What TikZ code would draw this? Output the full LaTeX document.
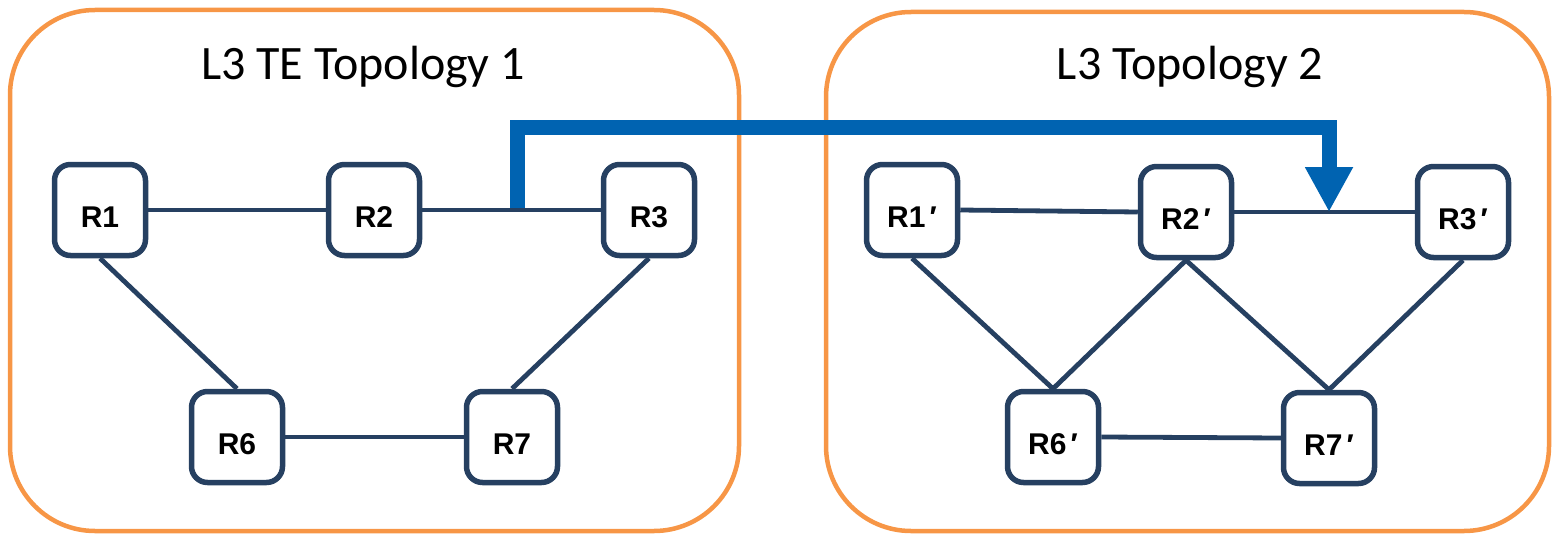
\documentclass[tikz,border=0pt]{standalone}
\usepackage{fontspec}
\newfontfamily\titlefont{Carlito}
\newfontfamily\labelfont{Liberation Sans}
\usetikzlibrary{arrows.meta,calc}
\definecolor{frameorange}{RGB}{247,150,70}
\definecolor{navy}{RGB}{38,64,97}
\definecolor{arrowblue}{RGB}{0,99,177}
\newcommand{\pr}{\hspace{4pt}′}
\tikzset{
  frame/.style={draw=frameorange,line width=4.5pt,rounded corners=85pt},
  router/.style={draw=navy,line width=5.5pt,rounded corners=16pt,fill=white,
    minimum width=91pt,minimum height=91pt,inner sep=0pt},
  rlabel/.style={font=\labelfont\bfseries\fontsize{30}{32}\selectfont,yshift=-7pt},
  link/.style={draw=navy,line width=4.8pt},
  title/.style={font=\titlefont\fontsize{48}{56}\selectfont,anchor=base},
  bigarrow/.style={draw=arrowblue,line width=15pt,line join=miter,
    -{Triangle[length=45pt,width=45pt]}}
}
\begin{document}
\begin{tikzpicture}[x=1pt,y=-1pt]
\useasboundingbox (0,0) rectangle (1552,535);
% frames
\draw[frame] (10,10) rectangle (739,531);
\draw[frame] (826,12) rectangle (1549,531);
\node[title] (t1) at (363,79) {L3 TE Topology 1};
\node[title] (t2) at (1190,79) {L3 Topology 2};
% left topology
\node[router,label={[rlabel]center:R1}] (R1) at (100,210) {};
\node[router,label={[rlabel]center:R2}] (R2) at (374,210) {};
\node[router,label={[rlabel]center:R3}] (R3) at (649,210) {};
\node[router,label={[rlabel]center:R6}] (R6) at (237,437) {};
\node[router,label={[rlabel]center:R7}] (R7) at (512,437) {};
\draw[link] (R1.east) -- (R2.west);
\draw[link] (R2.east) -- (R3.west);
\draw[link] (R1.south) -- (R6.north);
\draw[link] (R3.south) -- (R7.north);
\draw[link] (R6.east) -- (R7.west);
% right topology
\node[router,label={[rlabel]center:R1\pr}] (Q1) at (912,210) {};
\node[router,label={[rlabel]center:R2\pr}] (Q2) at (1186,212) {};
\node[router,label={[rlabel]center:R3\pr}] (Q3) at (1463,212) {};
\node[router,label={[rlabel]center:R6\pr}] (Q6) at (1053,437) {};
\node[router,label={[rlabel]center:R7\pr}] (Q7) at (1329,438) {};
\draw[link] (Q1.east) -- (Q2.west);
\draw[link] (Q2.east) -- (Q3.west);
\draw[link] (Q1.south) -- (Q6.north);
\draw[link] (Q2.south) -- (Q6.north);
\draw[link] (Q2.south) -- (Q7.north);
\draw[link] (Q3.south) -- (Q7.north);
\draw[link] (Q6.east) -- (Q7.west);
% mapping arrow
\coordinate (s) at ($(R2.east)!0.534!(R3.west)$);
\coordinate (e) at ($(Q2.east)!0.525!(Q3.west)$);
\coordinate (lev) at (0,127);
\draw[bigarrow] ([yshift=2pt]s) -- (s |- lev) -| (e);
\end{tikzpicture}
\end{document}
